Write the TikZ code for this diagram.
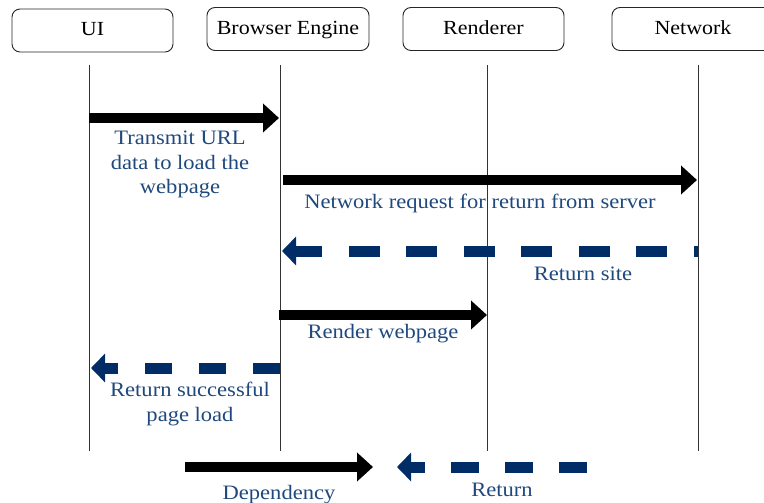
\documentclass[tikz,border=0pt]{standalone}
\usepackage{fontspec}
\setmainfont{Liberation Serif}[FakeStretch=1.1]
\usetikzlibrary{arrows.meta}
\definecolor{msgblue}{RGB}{31,73,125}
\definecolor{retnavy}{RGB}{0,45,102}
\begin{document}
\begin{tikzpicture}[x=1pt,y=-1pt,
  actor/.style={draw=black!85, line width=0.9pt, rounded corners=8pt,
    minimum height=43pt, inner sep=0pt, text height=14pt, text depth=3pt,
    font=\fontsize{20}{24}\selectfont},
  lifeline/.style={draw=black!80, line width=1pt},
  callarrow/.style={draw=black, line width=10pt, -{Triangle[length=16pt,width=28pt]}},
  retarrow/.style={draw=retnavy, line width=11pt,
    -{Triangle[length=14pt,width=28pt]}},
  msg/.style={text=msgblue, font=\fontsize{20.5}{24.5}\selectfont, align=center, inner sep=0pt}]
\useasboundingbox (0,0) rectangle (764,503);

% participants
\node[actor, minimum width=161pt] (ui)  at (92.5,30.5) {UI};
\node[actor, minimum width=162pt] (be)  at (288,29)    {Browser Engine};
\node[actor, minimum width=161pt] (rd)  at (483.5,29)  {Renderer};
\node[actor, minimum width=162pt] (nw)  at (693,29)    {Network};

% lifelines
\coordinate (uiT) at (89,65);  \coordinate (uiB) at (89,451);
\coordinate (beT) at (280,65); \coordinate (beB) at (280,451);
\coordinate (rdT) at (487,65); \coordinate (rdB) at (487,451);
\coordinate (nwT) at (698,65); \coordinate (nwB) at (698,451);
\draw[lifeline] (uiT) -- (uiB);
\draw[lifeline] (beT) -- (beB);
\draw[lifeline] (rdT) -- (rdB);
\draw[lifeline] (nwT) -- (nwB);

% message end points
\coordinate (m1a) at (89,118);  \coordinate (m1b) at (279,118);
\coordinate (m2a) at (283,180); \coordinate (m2b) at (697,180);
\coordinate (m3a) at (698,251); \coordinate (m3b) at (282,251);
\coordinate (m4a) at (279,315); \coordinate (m4b) at (487,315);
\coordinate (m5a) at (280,368); \coordinate (m5b) at (91,368);

% messages
\draw[callarrow] (m1a) -- (m1b);
\draw[callarrow] (m2a) -- (m2b);
\draw[retarrow, dash pattern=on 31pt off 26.5pt, dash phase=26.5pt] (m3a) -- (m3b);
\draw[callarrow] (m4a) -- (m4b);
\draw[retarrow, dash pattern=on 27pt off 27pt] (m5a) -- (m5b);

% message labels
\node[msg] (l1) at (180,164.5) {Transmit URL\\data to load the\\webpage};
\node[msg] (l2) at (480,203) {Network request for return from server};
\node[msg] (l3) at (583,273.5) {Return site};
\node[msg] (l4) at (383,333.5) {Render webpage};
\node[msg] (l5) at (190,404) {Return successful\\page load};

% legend
\coordinate (k1a) at (185,467); \coordinate (k1b) at (373,467);
\coordinate (k2a) at (587,467); \coordinate (k2b) at (397,467);
\draw[callarrow] (k1a) -- (k1b);
\draw[retarrow, dash pattern=on 28pt off 26pt] (k2a) -- (k2b);
\node[msg] (k1) at (279,494.5) {Dependency};
\node[msg] (k2) at (502,489.5) {Return};
\end{tikzpicture}
\end{document}
